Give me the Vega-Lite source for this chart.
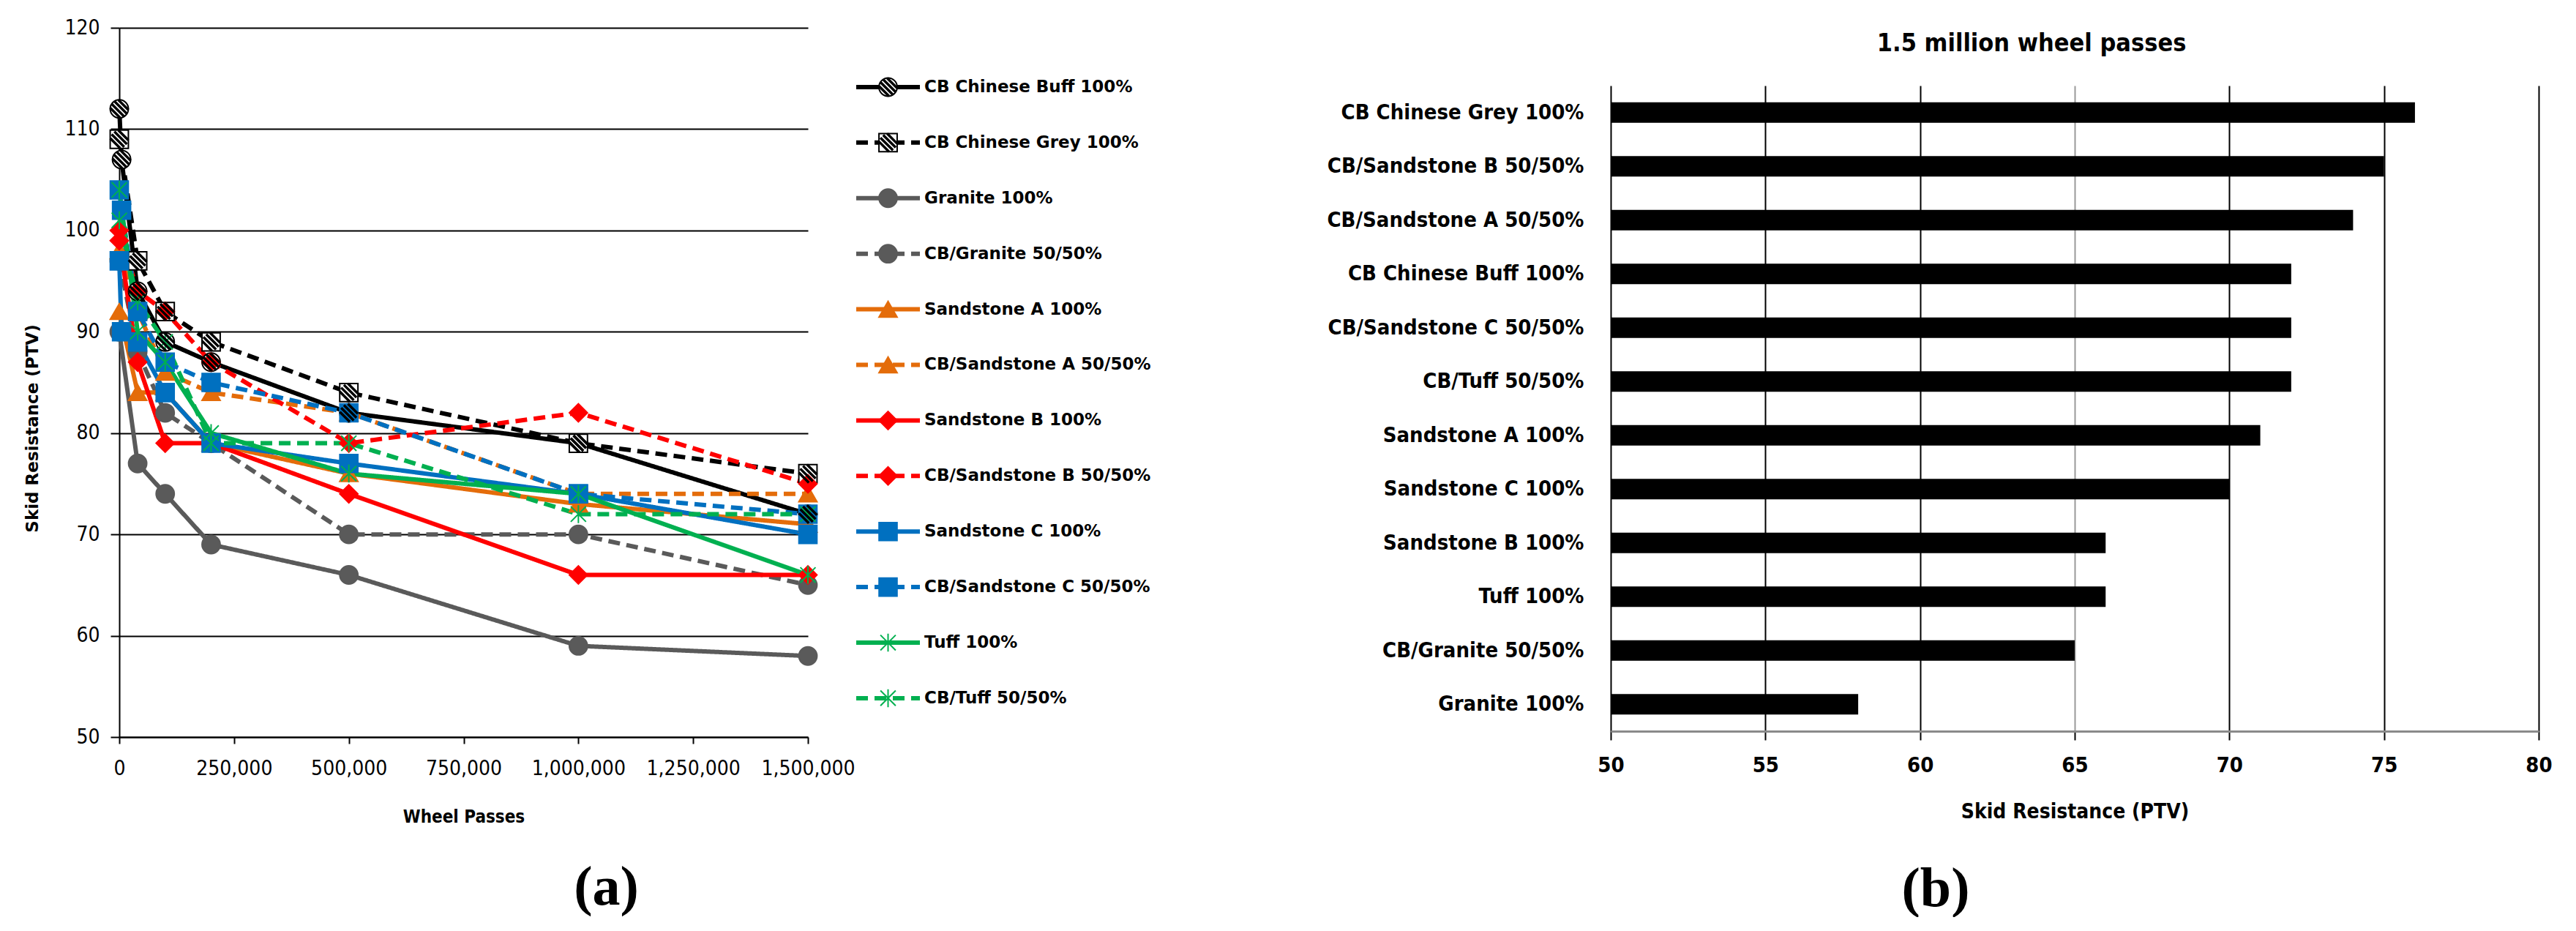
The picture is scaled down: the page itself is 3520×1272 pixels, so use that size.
{
  "$schema": "https://vega.github.io/schema/vega-lite/v6.json",
  "background": "white",
  "padding": {"left": 33, "top": 24, "right": 0, "bottom": 0},
  "bounds": "flush",
  "spacing": 66,
  "config": {
    "view": {"stroke": null},
    "font": "DejaVu Sans Condensed",
    "axis": {"labelFont": "DejaVu Sans Condensed", "titleFont": "DejaVu Sans Condensed", "labelColor": "black", "titleColor": "black"}
  },
  "datasets": {
    "wear": [
      {"series": "CB Chinese Buff 100%", "passes": 0, "ptv": 112},
      {"series": "CB Chinese Buff 100%", "passes": 5000, "ptv": 107},
      {"series": "CB Chinese Buff 100%", "passes": 40000, "ptv": 94},
      {"series": "CB Chinese Buff 100%", "passes": 100000, "ptv": 89},
      {"series": "CB Chinese Buff 100%", "passes": 200000, "ptv": 87},
      {"series": "CB Chinese Buff 100%", "passes": 500000, "ptv": 82},
      {"series": "CB Chinese Buff 100%", "passes": 1000000, "ptv": 79},
      {"series": "CB Chinese Buff 100%", "passes": 1500000, "ptv": 72},
      {"series": "CB Chinese Grey 100%", "passes": 0, "ptv": 109},
      {"series": "CB Chinese Grey 100%", "passes": 40000, "ptv": 97},
      {"series": "CB Chinese Grey 100%", "passes": 100000, "ptv": 92},
      {"series": "CB Chinese Grey 100%", "passes": 200000, "ptv": 89},
      {"series": "CB Chinese Grey 100%", "passes": 500000, "ptv": 84},
      {"series": "CB Chinese Grey 100%", "passes": 1000000, "ptv": 79},
      {"series": "CB Chinese Grey 100%", "passes": 1500000, "ptv": 76},
      {"series": "Granite 100%", "passes": 0, "ptv": 90},
      {"series": "Granite 100%", "passes": 40000, "ptv": 77},
      {"series": "Granite 100%", "passes": 100000, "ptv": 74},
      {"series": "Granite 100%", "passes": 200000, "ptv": 69},
      {"series": "Granite 100%", "passes": 500000, "ptv": 66},
      {"series": "Granite 100%", "passes": 1000000, "ptv": 59},
      {"series": "Granite 100%", "passes": 1500000, "ptv": 58},
      {"series": "CB/Granite 50/50%", "passes": 0, "ptv": 97},
      {"series": "CB/Granite 50/50%", "passes": 40000, "ptv": 88},
      {"series": "CB/Granite 50/50%", "passes": 100000, "ptv": 82},
      {"series": "CB/Granite 50/50%", "passes": 200000, "ptv": 79},
      {"series": "CB/Granite 50/50%", "passes": 500000, "ptv": 70},
      {"series": "CB/Granite 50/50%", "passes": 1000000, "ptv": 70},
      {"series": "CB/Granite 50/50%", "passes": 1500000, "ptv": 65},
      {"series": "Sandstone A 100%", "passes": 0, "ptv": 92},
      {"series": "Sandstone A 100%", "passes": 40000, "ptv": 84},
      {"series": "Sandstone A 100%", "passes": 100000, "ptv": 84},
      {"series": "Sandstone A 100%", "passes": 200000, "ptv": 79},
      {"series": "Sandstone A 100%", "passes": 500000, "ptv": 76},
      {"series": "Sandstone A 100%", "passes": 1000000, "ptv": 73},
      {"series": "Sandstone A 100%", "passes": 1500000, "ptv": 71},
      {"series": "CB/Sandstone A 50/50%", "passes": 0, "ptv": 98},
      {"series": "CB/Sandstone A 50/50%", "passes": 40000, "ptv": 92},
      {"series": "CB/Sandstone A 50/50%", "passes": 100000, "ptv": 86},
      {"series": "CB/Sandstone A 50/50%", "passes": 200000, "ptv": 84},
      {"series": "CB/Sandstone A 50/50%", "passes": 500000, "ptv": 82},
      {"series": "CB/Sandstone A 50/50%", "passes": 1000000, "ptv": 74},
      {"series": "CB/Sandstone A 50/50%", "passes": 1500000, "ptv": 74},
      {"series": "Sandstone B 100%", "passes": 0, "ptv": 99},
      {"series": "Sandstone B 100%", "passes": 40000, "ptv": 87},
      {"series": "Sandstone B 100%", "passes": 100000, "ptv": 79},
      {"series": "Sandstone B 100%", "passes": 200000, "ptv": 79},
      {"series": "Sandstone B 100%", "passes": 500000, "ptv": 74},
      {"series": "Sandstone B 100%", "passes": 1000000, "ptv": 66},
      {"series": "Sandstone B 100%", "passes": 1500000, "ptv": 66},
      {"series": "CB/Sandstone B 50/50%", "passes": 0, "ptv": 100},
      {"series": "CB/Sandstone B 50/50%", "passes": 40000, "ptv": 94},
      {"series": "CB/Sandstone B 50/50%", "passes": 100000, "ptv": 92},
      {"series": "CB/Sandstone B 50/50%", "passes": 200000, "ptv": 87},
      {"series": "CB/Sandstone B 50/50%", "passes": 500000, "ptv": 79},
      {"series": "CB/Sandstone B 50/50%", "passes": 1000000, "ptv": 82},
      {"series": "CB/Sandstone B 50/50%", "passes": 1500000, "ptv": 75},
      {"series": "Sandstone C 100%", "passes": 0, "ptv": 97},
      {"series": "Sandstone C 100%", "passes": 5000, "ptv": 90},
      {"series": "Sandstone C 100%", "passes": 40000, "ptv": 89},
      {"series": "Sandstone C 100%", "passes": 100000, "ptv": 84},
      {"series": "Sandstone C 100%", "passes": 200000, "ptv": 79},
      {"series": "Sandstone C 100%", "passes": 500000, "ptv": 77},
      {"series": "Sandstone C 100%", "passes": 1000000, "ptv": 74},
      {"series": "Sandstone C 100%", "passes": 1500000, "ptv": 70},
      {"series": "CB/Sandstone C 50/50%", "passes": 0, "ptv": 104},
      {"series": "CB/Sandstone C 50/50%", "passes": 5000, "ptv": 102},
      {"series": "CB/Sandstone C 50/50%", "passes": 40000, "ptv": 92},
      {"series": "CB/Sandstone C 50/50%", "passes": 100000, "ptv": 87},
      {"series": "CB/Sandstone C 50/50%", "passes": 200000, "ptv": 85},
      {"series": "CB/Sandstone C 50/50%", "passes": 500000, "ptv": 82},
      {"series": "CB/Sandstone C 50/50%", "passes": 1000000, "ptv": 74},
      {"series": "CB/Sandstone C 50/50%", "passes": 1500000, "ptv": 72},
      {"series": "Tuff 100%", "passes": 0, "ptv": 104},
      {"series": "Tuff 100%", "passes": 40000, "ptv": 90},
      {"series": "Tuff 100%", "passes": 100000, "ptv": 87},
      {"series": "Tuff 100%", "passes": 200000, "ptv": 80},
      {"series": "Tuff 100%", "passes": 500000, "ptv": 76},
      {"series": "Tuff 100%", "passes": 1000000, "ptv": 74},
      {"series": "Tuff 100%", "passes": 1500000, "ptv": 66},
      {"series": "CB/Tuff 50/50%", "passes": 0, "ptv": 101},
      {"series": "CB/Tuff 50/50%", "passes": 40000, "ptv": 93},
      {"series": "CB/Tuff 50/50%", "passes": 100000, "ptv": 89},
      {"series": "CB/Tuff 50/50%", "passes": 200000, "ptv": 79},
      {"series": "CB/Tuff 50/50%", "passes": 500000, "ptv": 79},
      {"series": "CB/Tuff 50/50%", "passes": 1000000, "ptv": 72},
      {"series": "CB/Tuff 50/50%", "passes": 1500000, "ptv": 72}
    ],
    "legend": [
      {"series": "CB Chinese Buff 100%"},
      {"series": "CB Chinese Grey 100%"},
      {"series": "Granite 100%"},
      {"series": "CB/Granite 50/50%"},
      {"series": "Sandstone A 100%"},
      {"series": "CB/Sandstone A 50/50%"},
      {"series": "Sandstone B 100%"},
      {"series": "CB/Sandstone B 50/50%"},
      {"series": "Sandstone C 100%"},
      {"series": "CB/Sandstone C 50/50%"},
      {"series": "Tuff 100%"},
      {"series": "CB/Tuff 50/50%"}
    ],
    "bars": [
      {"aggregate": "CB Chinese Grey 100%", "ptv": 76},
      {"aggregate": "CB/Sandstone B 50/50%", "ptv": 75},
      {"aggregate": "CB/Sandstone A 50/50%", "ptv": 74},
      {"aggregate": "CB Chinese Buff 100%", "ptv": 72},
      {"aggregate": "CB/Sandstone C 50/50%", "ptv": 72},
      {"aggregate": "CB/Tuff 50/50%", "ptv": 72},
      {"aggregate": "Sandstone A 100%", "ptv": 71},
      {"aggregate": "Sandstone C 100%", "ptv": 70},
      {"aggregate": "Sandstone B 100%", "ptv": 66},
      {"aggregate": "Tuff 100%", "ptv": 66},
      {"aggregate": "CB/Granite 50/50%", "ptv": 65},
      {"aggregate": "Granite 100%", "ptv": 58}
    ]
  },
  "hconcat": [
    {
      "width": 941,
      "height": 969,
      "data": {"name": "wear"},
      "title": {"text": "(a)", "orient": "bottom", "anchor": "middle", "font": "Liberation Serif", "fontSize": 76, "fontWeight": "bold", "color": "black", "offset": 48, "dx": 195},
      "layer": [
        {
          "mark": {"type": "line", "strokeWidth": 6},
          "encoding": {
            "x": {"field": "passes", "type": "quantitative", "scale": {"domain": [0, 1500000], "nice": false},
              "axis": {"values": [0, 250000, 500000, 750000, 1000000, 1250000, 1500000], "format": ",d", "title": "Wheel Passes", "grid": false,
                "domainColor": "black", "domainWidth": 2, "tickColor": "black", "tickSize": 9, "tickWidth": 2,
                "labelFontSize": 28, "labelPadding": 20, "labelFlush": false, "labelOverlap": false,
                "titleFontSize": 24, "titleFontWeight": "bold", "titlePadding": 40}},
            "y": {"field": "ptv", "type": "quantitative", "scale": {"domain": [50, 120], "nice": false, "zero": false},
              "axis": {"values": [50, 60, 70, 80, 90, 100, 110, 120], "title": "Skid Resistance (PTV)", "grid": true, "gridColor": "black", "gridWidth": 2, "gridOpacity": 1,
                "domainColor": "black", "domainWidth": 2, "tickColor": "black", "tickSize": 12, "tickWidth": 2,
                "labelFontSize": 28, "labelPadding": 15,
                "titleFont": "DejaVu Sans", "titleFontSize": 23, "titleFontWeight": "bold", "titleAngle": -90, "titleX": -119, "titleY": 547, "titleBaseline": "middle", "titleAlign": "center"}},
            "color": {"field": "series", "type": "nominal", "legend": null,
              "scale": {"domain": ["CB Chinese Buff 100%", "CB Chinese Grey 100%", "Granite 100%", "CB/Granite 50/50%", "Sandstone A 100%", "CB/Sandstone A 50/50%", "Sandstone B 100%", "CB/Sandstone B 50/50%", "Sandstone C 100%", "CB/Sandstone C 50/50%", "Tuff 100%", "CB/Tuff 50/50%"],
                "range": ["#000000", "#000000", "#5a5a5a", "#5a5a5a", "#E46C0A", "#E46C0A", "#FF0000", "#FF0000", "#0070C0", "#0070C0", "#00B050", "#00B050"]}},
            "strokeDash": {"field": "series", "type": "nominal", "legend": null,
              "scale": {"domain": ["CB Chinese Buff 100%", "CB Chinese Grey 100%", "Granite 100%", "CB/Granite 50/50%", "Sandstone A 100%", "CB/Sandstone A 50/50%", "Sandstone B 100%", "CB/Sandstone B 50/50%", "Sandstone C 100%", "CB/Sandstone C 50/50%", "Tuff 100%", "CB/Tuff 50/50%"],
                "range": [[1, 0], [16, 9], [1, 0], [16, 9], [1, 0], [16, 9], [1, 0], [16, 9], [1, 0], [16, 9], [1, 0], [16, 9]]}},
            "order": {"field": "passes", "type": "quantitative"}
          }
        },
        {
          "mark": {"type": "point", "filled": true, "strokeWidth": 2, "opacity": 1},
          "encoding": {
            "x": {"field": "passes", "type": "quantitative"},
            "y": {"field": "ptv", "type": "quantitative"},
            "shape": {"field": "series", "type": "nominal", "legend": null,
              "scale": {"domain": ["CB Chinese Buff 100%", "CB Chinese Grey 100%", "Granite 100%", "CB/Granite 50/50%", "Sandstone A 100%", "CB/Sandstone A 50/50%", "Sandstone B 100%", "CB/Sandstone B 50/50%", "Sandstone C 100%", "CB/Sandstone C 50/50%", "Tuff 100%", "CB/Tuff 50/50%"],
                "range": ["circle", "square", "circle", "circle", "triangle-up", "triangle-up", "diamond", "diamond", "square", "square", "M 0 -1 L 0 1 M -0.85 -0.85 L 0.85 0.85 M -0.85 0.85 L 0.85 -0.85", "M 0 -1 L 0 1 M -0.85 -0.85 L 0.85 0.85 M -0.85 0.85 L 0.85 -0.85"]}},
            "fill": {"field": "series", "type": "nominal", "legend": null,
              "scale": {"domain": ["CB Chinese Buff 100%", "CB Chinese Grey 100%", "Granite 100%", "CB/Granite 50/50%", "Sandstone A 100%", "CB/Sandstone A 50/50%", "Sandstone B 100%", "CB/Sandstone B 50/50%", "Sandstone C 100%", "CB/Sandstone C 50/50%", "Tuff 100%", "CB/Tuff 50/50%"],
                "range": ["#ffffff", "#ffffff", "#5a5a5a", "#5a5a5a", "#E46C0A", "#E46C0A", "#FF0000", "#FF0000", "#0070C0", "#0070C0", "#00B050", "#00B050"]}},
            "stroke": {"field": "series", "type": "nominal", "legend": null,
              "scale": {"domain": ["CB Chinese Buff 100%", "CB Chinese Grey 100%", "Granite 100%", "CB/Granite 50/50%", "Sandstone A 100%", "CB/Sandstone A 50/50%", "Sandstone B 100%", "CB/Sandstone B 50/50%", "Sandstone C 100%", "CB/Sandstone C 50/50%", "Tuff 100%", "CB/Tuff 50/50%"],
                "range": ["#000000", "#000000", "#5a5a5a", "#5a5a5a", "#E46C0A", "#E46C0A", "#FF0000", "#FF0000", "#0070C0", "#0070C0", "#00B050", "#00B050"]}},
            "size": {"field": "series", "type": "nominal", "legend": null,
              "scale": {"domain": ["CB Chinese Buff 100%", "CB Chinese Grey 100%", "Granite 100%", "CB/Granite 50/50%", "Sandstone A 100%", "CB/Sandstone A 50/50%", "Sandstone B 100%", "CB/Sandstone B 50/50%", "Sandstone C 100%", "CB/Sandstone C 50/50%", "Tuff 100%", "CB/Tuff 50/50%"],
                "range": [620, 600, 520, 520, 560, 560, 520, 520, 600, 600, 800, 800]}}
          }
        },
        {
          "transform": [{"filter": {"field": "series", "oneOf": ["CB Chinese Buff 100%", "CB Chinese Grey 100%"]}}],
          "mark": {"type": "point", "filled": false, "stroke": "black", "strokeWidth": 3.5, "opacity": 1, "size": 620,
            "shape": "M -0.99 -0.1 L 0.1 0.99 M -0.84 -0.54 L 0.54 0.84 M -0.54 -0.84 L 0.84 0.54 M -0.1 -0.99 L 0.99 0.1"},
          "encoding": {
            "x": {"field": "passes", "type": "quantitative"},
            "y": {"field": "ptv", "type": "quantitative"}
          }
        }
      ]
    },
    {
      "width": 965,
      "height": 969,
      "data": {"name": "legend"},
      "layer": [
        {
          "mark": {"type": "rule", "strokeWidth": 6},
          "encoding": {
            "x": {"datum": 0, "type": "quantitative", "scale": {"domain": [0, 965], "nice": false, "zero": false}, "axis": null},
            "x2": {"datum": 87},
            "y": {"field": "series", "type": "nominal", "axis": null,
              "scale": {"type": "point", "domain": ["CB Chinese Buff 100%", "CB Chinese Grey 100%", "Granite 100%", "CB/Granite 50/50%", "Sandstone A 100%", "CB/Sandstone A 50/50%", "Sandstone B 100%", "CB/Sandstone B 50/50%", "Sandstone C 100%", "CB/Sandstone C 50/50%", "Tuff 100%", "CB/Tuff 50/50%"], "padding": 0.883, "align": 0.604}},
            "color": {"field": "series", "type": "nominal", "legend": null,
              "scale": {"domain": ["CB Chinese Buff 100%", "CB Chinese Grey 100%", "Granite 100%", "CB/Granite 50/50%", "Sandstone A 100%", "CB/Sandstone A 50/50%", "Sandstone B 100%", "CB/Sandstone B 50/50%", "Sandstone C 100%", "CB/Sandstone C 50/50%", "Tuff 100%", "CB/Tuff 50/50%"],
                "range": ["#000000", "#000000", "#5a5a5a", "#5a5a5a", "#E46C0A", "#E46C0A", "#FF0000", "#FF0000", "#0070C0", "#0070C0", "#00B050", "#00B050"]}},
            "strokeDash": {"field": "series", "type": "nominal", "legend": null,
              "scale": {"domain": ["CB Chinese Buff 100%", "CB Chinese Grey 100%", "Granite 100%", "CB/Granite 50/50%", "Sandstone A 100%", "CB/Sandstone A 50/50%", "Sandstone B 100%", "CB/Sandstone B 50/50%", "Sandstone C 100%", "CB/Sandstone C 50/50%", "Tuff 100%", "CB/Tuff 50/50%"],
                "range": [[1, 0], [20, 10], [1, 0], [20, 10], [1, 0], [20, 10], [1, 0], [20, 10], [1, 0], [20, 10], [1, 0], [20, 10]]}}
          }
        },
        {
          "mark": {"type": "point", "filled": true, "strokeWidth": 2, "opacity": 1},
          "encoding": {
            "x": {"datum": 43.5, "type": "quantitative"},
            "y": {"field": "series", "type": "nominal"},
            "shape": {"field": "series", "type": "nominal", "legend": null,
              "scale": {"domain": ["CB Chinese Buff 100%", "CB Chinese Grey 100%", "Granite 100%", "CB/Granite 50/50%", "Sandstone A 100%", "CB/Sandstone A 50/50%", "Sandstone B 100%", "CB/Sandstone B 50/50%", "Sandstone C 100%", "CB/Sandstone C 50/50%", "Tuff 100%", "CB/Tuff 50/50%"],
                "range": ["circle", "square", "circle", "circle", "triangle-up", "triangle-up", "diamond", "diamond", "square", "square", "M 0 -1 L 0 1 M -0.85 -0.85 L 0.85 0.85 M -0.85 0.85 L 0.85 -0.85", "M 0 -1 L 0 1 M -0.85 -0.85 L 0.85 0.85 M -0.85 0.85 L 0.85 -0.85"]}},
            "fill": {"field": "series", "type": "nominal", "legend": null,
              "scale": {"domain": ["CB Chinese Buff 100%", "CB Chinese Grey 100%", "Granite 100%", "CB/Granite 50/50%", "Sandstone A 100%", "CB/Sandstone A 50/50%", "Sandstone B 100%", "CB/Sandstone B 50/50%", "Sandstone C 100%", "CB/Sandstone C 50/50%", "Tuff 100%", "CB/Tuff 50/50%"],
                "range": ["#ffffff", "#ffffff", "#5a5a5a", "#5a5a5a", "#E46C0A", "#E46C0A", "#FF0000", "#FF0000", "#0070C0", "#0070C0", "#00B050", "#00B050"]}},
            "stroke": {"field": "series", "type": "nominal", "legend": null,
              "scale": {"domain": ["CB Chinese Buff 100%", "CB Chinese Grey 100%", "Granite 100%", "CB/Granite 50/50%", "Sandstone A 100%", "CB/Sandstone A 50/50%", "Sandstone B 100%", "CB/Sandstone B 50/50%", "Sandstone C 100%", "CB/Sandstone C 50/50%", "Tuff 100%", "CB/Tuff 50/50%"],
                "range": ["#000000", "#000000", "#5a5a5a", "#5a5a5a", "#E46C0A", "#E46C0A", "#FF0000", "#FF0000", "#0070C0", "#0070C0", "#00B050", "#00B050"]}},
            "size": {"field": "series", "type": "nominal", "legend": null,
              "scale": {"domain": ["CB Chinese Buff 100%", "CB Chinese Grey 100%", "Granite 100%", "CB/Granite 50/50%", "Sandstone A 100%", "CB/Sandstone A 50/50%", "Sandstone B 100%", "CB/Sandstone B 50/50%", "Sandstone C 100%", "CB/Sandstone C 50/50%", "Tuff 100%", "CB/Tuff 50/50%"],
                "range": [620, 600, 520, 520, 560, 560, 520, 520, 600, 600, 800, 800]}}
          }
        },
        {
          "transform": [{"filter": {"field": "series", "oneOf": ["CB Chinese Buff 100%", "CB Chinese Grey 100%"]}}],
          "mark": {"type": "point", "filled": false, "stroke": "black", "strokeWidth": 3.5, "opacity": 1, "size": 620,
            "shape": "M -0.99 -0.1 L 0.1 0.99 M -0.84 -0.54 L 0.54 0.84 M -0.54 -0.84 L 0.84 0.54 M -0.1 -0.99 L 0.99 0.1"},
          "encoding": {
            "x": {"datum": 43.5, "type": "quantitative"},
            "y": {"field": "series", "type": "nominal"}
          }
        },
        {
          "mark": {"type": "text", "align": "left", "baseline": "middle", "font": "DejaVu Sans", "fontWeight": "bold", "fontSize": 23, "color": "black"},
          "encoding": {
            "x": {"datum": 93, "type": "quantitative"},
            "y": {"field": "series", "type": "nominal"},
            "text": {"field": "series", "type": "nominal"}
          }
        }
      ]
    },
    {
      "bounds": "flush",
      "spacing": 39,
      "vconcat": [
        {
          "width": 1268,
          "height": 40,
          "data": {"values": [{"t": "1.5 million wheel passes"}]},
          "mark": {"type": "text", "font": "DejaVu Sans Condensed", "fontWeight": "bold", "fontSize": 34, "color": "black", "baseline": "middle", "align": "center"},
          "encoding": {
            "text": {"field": "t", "type": "nominal"},
            "x": {"datum": 0.4535, "type": "quantitative", "scale": {"domain": [0, 1], "nice": false}, "axis": null},
            "y": {"datum": 0.45, "type": "quantitative", "scale": {"domain": [0, 1], "nice": false}, "axis": null}
          }
        },
        {
          "width": 1268,
          "height": 882,
          "data": {"name": "bars"},
          "title": {"text": "(b)", "orient": "bottom", "anchor": "middle", "font": "Liberation Serif", "fontSize": 76, "fontWeight": "bold", "color": "black", "offset": 55, "dx": -190},
          "mark": {"type": "bar", "color": "black"},
          "encoding": {
            "y": {"field": "aggregate", "type": "nominal", "sort": null,
              "scale": {"paddingInner": 0.62, "paddingOuter": 0.31},
              "axis": {"title": null, "labelFontWeight": "bold", "labelFontSize": 29, "labelPadding": 37, "ticks": false, "domain": false, "labelLimit": 700}},
            "x": {"field": "ptv", "type": "quantitative", "scale": {"domain": [50, 80], "nice": false, "zero": false},
              "axis": {"values": [50, 55, 60, 65, 70, 75, 80], "title": "Skid Resistance (PTV)", "grid": true,
                "gridColor": {"condition": {"test": "datum.value === 65", "value": "#9a9a9a"}, "value": "black"}, "gridWidth": 2, "gridOpacity": 1,
                "domainColor": "#8a8a8a", "domainWidth": 3, "tickColor": "black", "tickSize": 12, "tickWidth": 2,
                "labelFontWeight": "bold", "labelFontSize": 29, "labelPadding": 20, "labelFlush": false,
                "titleFontSize": 28, "titleFontWeight": "bold", "titlePadding": 35}},
            "x2": {"datum": 50}
          }
        }
      ]
    }
  ]
}
